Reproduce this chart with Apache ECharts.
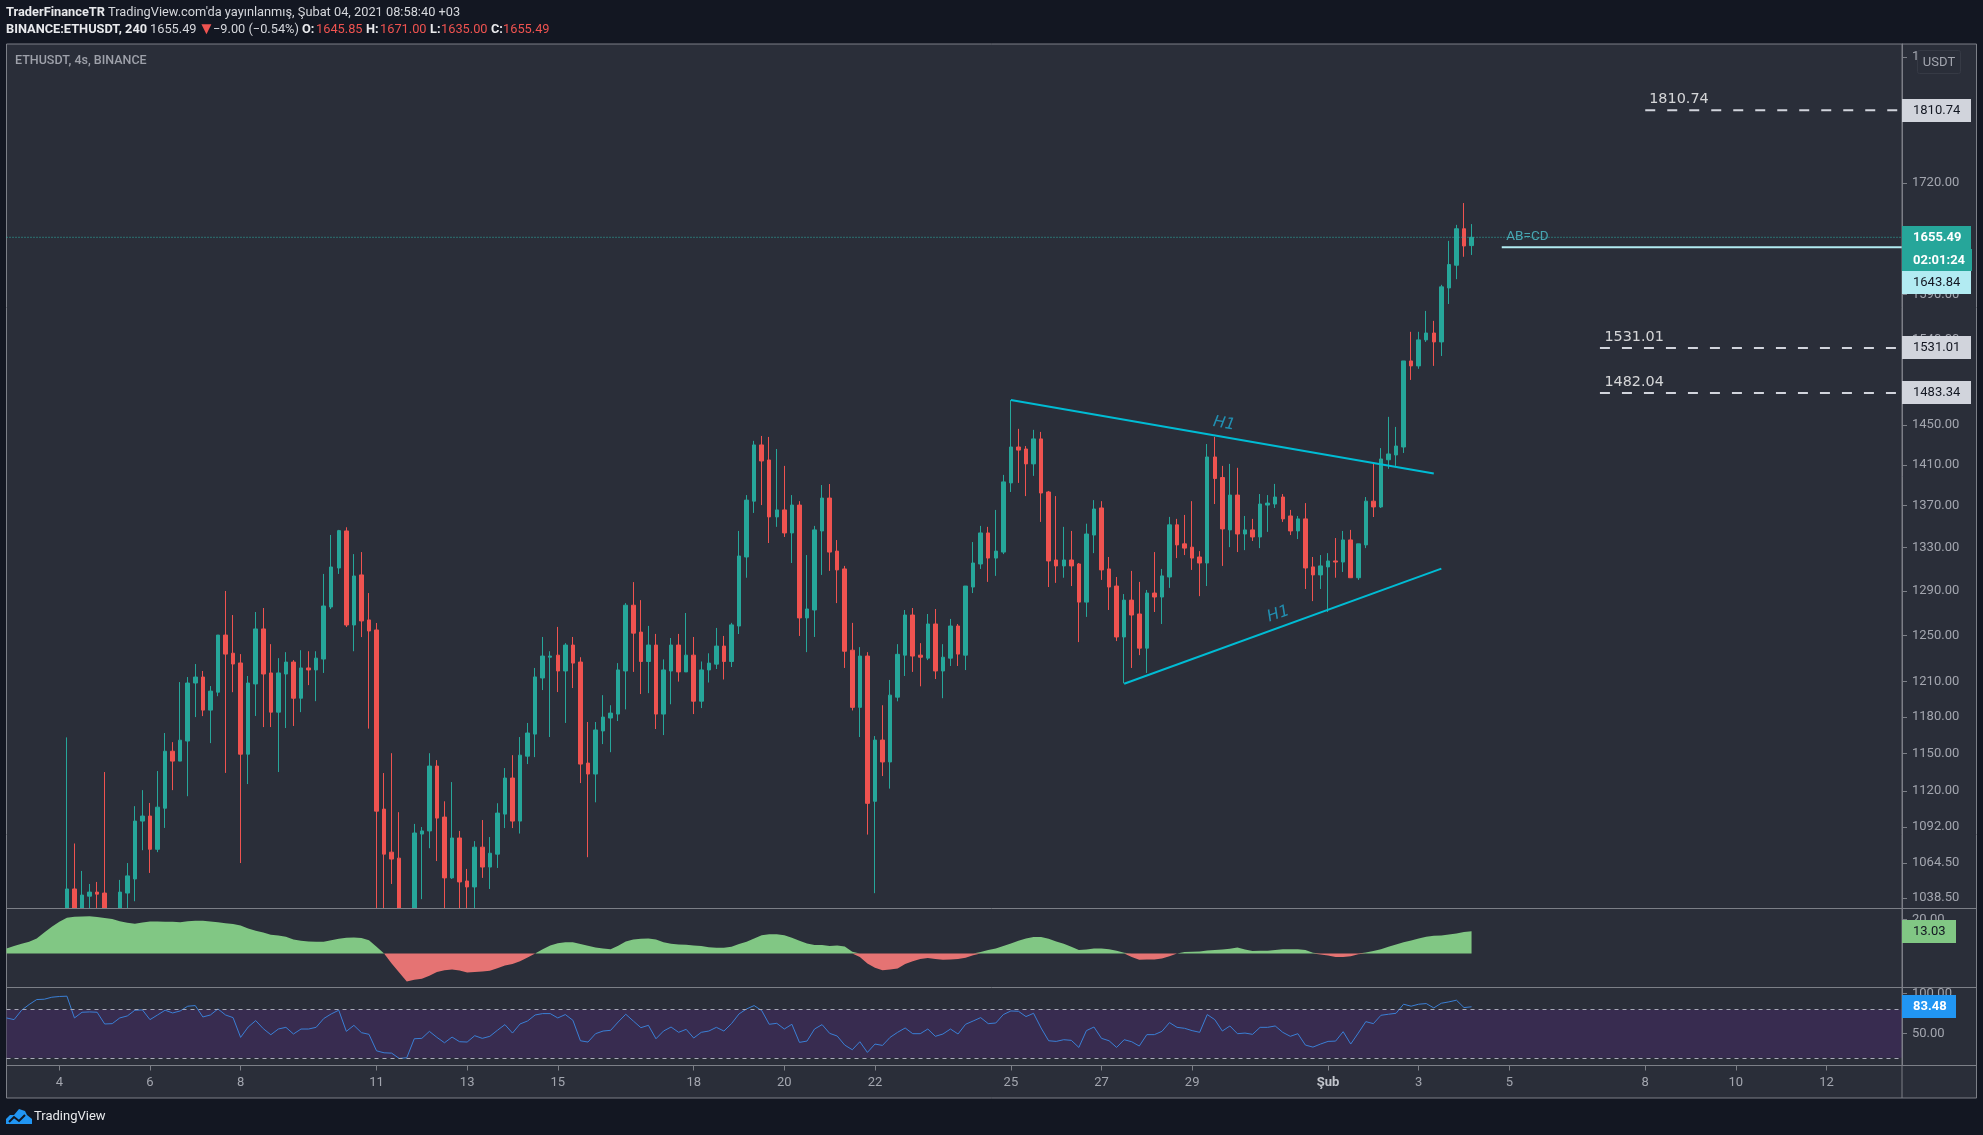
<!DOCTYPE html>
<html><head><meta charset="utf-8">
<style>html,body{margin:0;padding:0;background:#131722}#c{width:1983px;height:1135px}</style>
<script src="https://cdn.jsdelivr.net/npm/echarts@6/dist/echarts.min.js"></script>
</head><body><div id="c"></div>
<script>
// ---------- data ----------
const opens=[990,1000,988,1000,1005,990,1010,1015,1020,1045.3,1022,1040,1043,1042.3,1018,1018,1042.3,1052.7,1096.6,1100.5,1075,1106.6,1152,1144,1160.3,1208.8,1213.9,1185.9,1201,1250.4,1234.5,1226,1149.6,1208,1255.8,1217.4,1184.2,1216.5,1226.8,1195.9,1221.7,1220,1229.4,1275.4,1311,1345.7,1259.3,1304.6,1263.8,1254.9,1105.9,1072.8,1068.3,1020,1012,1086.6,1089,1140,1099.7,1053.5,1083.6,1051.2,1046.8,1076.6,1061.6,
1071.3,1102,1130.4,1096.6,1148,1166,1213.1,1231,1232.8,1219.1,1241.6,1226.8,1142.4,1133.6,1168.6,1179.3,1182.6,1219.1,1277,1253,1227.3,1241.6,1182.6,1219.1,1241.6,1218.3,1232.8,1193.4,1220,1225,1240.7,1227.3,1258.4,1321.2,1374.3,1429.9,1414.8,1359.1,1365.8,1343.8,1370.5,1265.6,1272.7,1345.7,1377.3,1326.7,1310.1,1237.1,1188.2,1232,1112,1161.1,1143.3,1196.8,1232.8,1268.2,1232.8,1230.2,1260.2,1219.1,
1230.2,1258.4,1232.8,1293.5,1314.7,1343.8,1320.2,1325.8,1392.1,1427.8,1425.8,1410.9,1436,1383.2,1318.4,1312.9,1318.4,1314.7,1279.8,1341.8,1367.7,1310.1,1294.4,1248.7,1281.6,1269.1,1238.9,1288,1284.4,1302.7,1351.5,1333.5,1330.4,1321.2,1315.6,1417.8,1397.4,1346.7,1380.2,1342.8,1346.7,1340,1370.5,1371.5,1378.3,1360,1345.7,1357.2,1312,1304.6,1312,1317.5,1316.5,1337.2,1302,1332.5,1374.3,1368.7,1415,1419.8,1427.8,1517.2,1511.9,1539.9,1547.4,1537.7,1597.4,1623.2,1665.5,1645.85];
const closes=[1000,988,1000,1005,990,1010,1015,1020,1045.3,1020,1040.8,1043,1041.5,1020,1012,1043,1055,1096.6,1100.5,1075,1107.4,1152,1144,1161,1208.8,1213.9,1185.9,1201.9,1250.4,1233.7,1225.1,1149.6,1208.8,1255.8,1216.5,1184.2,1217.4,1226.8,1195.9,1221.7,1220,1230.2,1276.3,1311.9,1346,1259.3,1303.6,1262.9,1254,1104.3,1071.3,1067.6,1015,1010,1087.4,1089,1140,1098.9,1053.5,1083.6,1050.5,1046.8,1076.6,1061.6,1072,
1102.8,1130.4,1096.6,1148.8,1166.9,1214,1232,1232,1219.1,1241.6,1225.9,1141.6,1133.6,1169.4,1180.1,1183.4,1220,1277,1252.1,1227.3,1241.6,1182.6,1220,1241.6,1218.3,1232.8,1193.4,1220,1225.9,1240.7,1227.3,1259.4,1322.1,1375.3,1429.9,1413.8,1359.1,1365.8,1343.8,1370.5,1265.6,1273.6,1346.7,1377.3,1325.8,1309.2,1236.2,1188.2,1232,1110.4,1161.1,1143.3,1198.5,1233.5,1268.2,1232,1231,1260.2,1219.1,1231,
1258.4,1233.7,1294.4,1315.6,1343.8,1320.2,1326.7,1393.1,1427.8,1424.7,1410.9,1436,1382.2,1317.5,1312.9,1318.4,1312.9,1279.8,1342.8,1366.7,1309.2,1293.5,1248.7,1281.6,1268.2,1238.9,1288,1284.4,1303.7,1351.5,1332.5,1329.5,1320.2,1315.6,1417.8,1396.4,1347.6,1380.2,1342.8,1346.7,1340,1371.5,1372.4,1378.3,1357.2,1345.7,1357.2,1311,1304.6,1312.9,1317.5,1316.5,1337.2,1302,1333.5,1374.3,1368.7,1415.8,1420.8,1428.8,1517.2,1511.9,1539.9,1547.4,1537.7,1598.6,1624,1665.5,1645.4,1655.49];
const lows=[985,985,985,985,985,985,1000,1005,1000,1005,1012,1025,1022,1010,1000,1010,1028,1036.3,1074.3,1057.2,1072.8,1091.3,1120.8,1144,1116,1180.1,1180.9,1158.6,1197.6,1134.5,1201,1064.6,1125.6,1181,1171.8,1171.8,1135.2,1171,1172.7,1184.2,1207,1193.4,1217.4,1273.6,1305.5,1257.5,1236.2,1248.6,1170.5,1020,1025,1049,1005,1000,1005,1037.8,1075.8,1066.1,1025,1052.7,1025,1028,1026,1053.5,1045.3,
1060.9,1091.2,1091.2,1087,1141.6,1147.2,1202.8,1163.6,1201.1,1175.2,1204.5,1126.4,1069,1111.2,1157.8,1151.2,1176.8,1186.5,1218.3,1199.4,1200.2,1170.2,1165.2,1190.8,1210,1218.3,1182.6,1187.6,1209.2,1220.8,1211.8,1222.5,1251.3,1302,1362.9,1370.5,1334.3,1349.6,1340,1315.6,1249.6,1235.4,1248.7,1304.6,1308.3,1278.9,1221.7,1185.6,1163.6,1086.2,1042.2,1132,1122,1193.3,1214.8,1218.3,1206,1228.5,1212.2,1195.9,
1223.4,1223.4,1219.9,1288,1310.1,1298.2,1303.7,1323.9,1383.2,1392.1,1379.2,1399,1354.3,1293.5,1297.3,1302,1294.4,1244.2,1266.5,1324.8,1300,1272.7,1245.1,1208.5,1221.7,1232.8,1217.4,1270.9,1260.2,1292.7,1320.2,1323,1309.2,1285.2,1294.4,1371.5,1312.9,1330.4,1325.8,1327.6,1336.2,1329.5,1344.8,1367.7,1354.3,1341.8,1338,1291.7,1280.7,1291.7,1270.9,1302,1307.3,1302,1300,1329.5,1359,1367.7,1406,1408.9,1421.8,1497,1508.8,1537.7,1511.9,1522.5,1579.4,1607.3,1632.9,1635];
const highs=[1012,1010,1015,1018,1020,1022,1026,1029,1163.3,1079.4,1058.7,1049,1050.5,1135.2,1029,1052,1064.6,1108.2,1120.8,1110.7,1136,1166.9,1159.4,1209.6,1213.9,1225.1,1219.1,1206.2,1250.4,1289.9,1268.2,1233.7,1214.8,1270.9,1274.5,1242.4,1230.2,1235.4,1228.5,1237.1,1236.2,1236.2,1305.5,1341.9,1346.7,1349.2,1323.9,1325.8,1288,1261.1,1134.4,1150.4,1103.5,1029,1094.4,1092,1150.4,1144.8,1112,1127.2,1089,1060.2,1081.2,1097.4,1084.3,
1110.5,1138.4,1148.8,1163.6,1175.2,1221.7,1248.7,1236.2,1257.6,1243.3,1248.7,1231,1176,1176,1198.5,1190,1225.9,1278.9,1298,1281.6,1258.5,1251.4,1229.1,1247.8,1251.4,1270,1248.7,1227.3,1234.4,1256.7,1249.6,1261.2,1345.7,1380.2,1434,1439,1438,1425.8,1408.9,1380.2,1374.3,1323,1350.5,1390,1391,1337.1,1312.9,1261.2,1239.8,1235.4,1164.4,1190,1211.4,1242.4,1272.7,1274.5,1243.3,1269.1,1273.6,1242.4,
1264.7,1260.2,1294.4,1335.2,1350.5,1349.6,1365.8,1400,1475.9,1446.2,1428.8,1445.2,1443.1,1384.2,1379.2,1349.6,1345.7,1315.6,1352.6,1375.3,1374.3,1321.2,1302.7,1287.1,1308.3,1298.2,1290.8,1325.8,1310.1,1359.1,1357.2,1361,1374.3,1326.7,1430.8,1438,1408.9,1410.9,1407,1360,1357.2,1381.2,1380.2,1391.1,1381.2,1365.8,1360,1372.4,1321.2,1323,1324.8,1339,1345.7,1346.7,1333.5,1378.3,1410.9,1426.7,1458.5,1448.2,1517.2,1548.7,1548.7,1571.7,1560.7,1600.9,1651.3,1670.1,1696,1671];
const macd=[2.9,4.3,5.7,6.8,8.8,12.3,15.6,18.5,20.9,21.5,21.6,21.8,21.3,20.7,20.1,18.9,17.9,17.4,18.1,18.7,18.7,18.5,18.5,18.3,18.9,19.1,19.1,18.7,18.3,17.7,17.2,16.4,14.6,13.3,12.3,10.9,10.5,9.8,8.2,7.4,7,6.8,6.8,7.8,8.6,9.2,9.4,9,7.8,3.9,0,-5.9,-11.1,-16.4,-15.4,-14.8,-13.1,-10.9,-9.8,-9.4,-9.9,-11.1,-10.9,-10.5,-10.1,-8.6,-7,-6.2,-4.5,-2.3,0,2.5,4.7,6,6.6,6.6,5.5,4.5,3.5,2.9,2.5,4.5,7,8.2,8.6,8.8,8.2,6.6,5.7,5.3,5.1,4.7,4.3,3.7,3.3,3.3,3.9,5.5,6.8,8.8,10.7,11.3,11.3,10.7,9.2,7.4,5.9,4.9,4.9,4.3,4.7,4.1,1,-2,-5.9,-8.4,-9.8,-9.4,-8.8,-6.2,-4.5,-3.3,-2.7,-3.3,-3.7,-3.5,-3.3,-2.5,-1,0.8,2,2.9,4.3,5.9,7.4,8.8,9.6,9.6,8.6,7,5.7,3.9,2,2.3,2.9,2.9,2.5,1.6,0.4,-2,-3.7,-3.5,-3.5,-2.9,-1.6,0,0.8,1,1.2,1.8,2.1,2.3,2.7,3.5,2.3,1.4,1.6,1.6,2.1,2.5,2.5,2.5,2,0.4,-0.6,-1.2,-2,-2,-1.6,-0.4,0.6,1.4,2.5,3.9,5.3,6.6,7.6,8.8,9.8,10.3,10.5,11.1,11.7,12.5,13.03];
const rsi=[69.6,67.5,79.2,86.3,92.5,92.9,95.4,96.3,96.7,69.6,76.7,77.1,76.7,62.1,62.5,69.6,72.1,79.2,79.6,67.5,73.3,79.2,75.8,78.3,84.2,85,70.8,73.3,80.8,73.3,70,45.4,58.3,66.3,56.3,48.7,55.8,57.9,49.6,55.8,55.8,57.9,68.8,74.6,79.2,52.9,60.4,51.3,49.2,28.7,26.2,25.8,19.2,20,43.7,44.2,52.9,45.4,38.7,45.8,40,39.6,47.5,44.2,46.7,54.2,61.3,50.8,62.1,65.8,73.3,75,75,69.6,73.8,66.7,41.2,39.6,50,53.3,54.2,64.6,74.2,65.8,57.5,60.4,43.7,53.3,58.3,51.7,55.4,44.6,51.7,53.3,57.9,53.3,62.5,74.6,80.8,85,78.8,61.7,62.9,55.8,61.7,39.2,40.8,55.8,61.3,50.4,47.1,35.8,30,40,26.7,37.1,35.4,45.4,51.7,57.1,50,50,55.8,46.7,49.6,55.8,49.6,61.7,65.8,70,62.5,63.3,73.8,78.3,77.9,71.3,75.4,57.1,41.2,40.4,42.5,41.7,32.9,53.8,58.3,44.2,41.2,32.9,42.5,40,34.6,48.8,48.8,52.9,63.8,57.9,56.7,53.8,51.7,73.8,67.5,53.3,59.6,50,50.8,49.2,57.9,57.9,59.6,51.7,46.7,50,35.8,33.3,37.1,40.4,40.8,52.5,37.1,50.8,65,62.5,72.9,74.2,75.4,86.7,84.2,86.7,87.5,82.1,87.9,89.6,91.7,82.5,83.48];
const priceTicks=[1880,1800,1720,1640,1590,1540,1490,1450,1410,1370,1330,1290,1250,1210,1180,1150,1120,1092,1064.5,1038.5];
const macdTicks=[20];
const rsiTicks=[50,100];
const xTickIndex=[7,19,31,49,61,73,91,103,115,133,145,157,175,187,199,217,229,241];
const xTickLabels=['4','6','8','11','13','15','18','20','22','25','27','29','Şub','3','5','8','10','12'];
const barCount=252;
const categories=Array.from({length:barCount},(_,i)=>new Date(Date.UTC(2021,0,2,21)+i*4*3600*1000).toISOString().slice(0,16));
const lastPrice=1655.49, abcd=1643.84;
const levels=[[217,1810.74],[211,1531.01],[211,1483.34]];
const trendUpper=[[133,1475.9],[189,1401.3]];
const trendLower=[[148,1208.2],[190,1310.4]];
const annoText=['H1','H1','AB=CD','1810.74','1531.01','1482.04'];
const annoBar=[161,168,201,221,215,215];
const annoPrice=[1452.7,1268.9,1656.4,1828,1545.4,1497.1];

// ---------- styles ----------
const BG='#131722',PANE='#2a2e39',LINE='#7c7f87',TXT='#a3a6af',UP='#26a69a',DN='#ef5350';
const FONT='Roboto';
const tickLabelByCat={};xTickIndex.forEach((k,i)=>{tickLabelByCat[categories[k]]=xTickLabels[i];});
const L=6.5,AX=1902,R=1976.5;
const tickFn=i=>xTickIndex.includes(i);

function xAxis(g,show){return {type:'category',gridIndex:g,data:categories,boundaryGap:false,show:show,
  axisLine:{lineStyle:{color:LINE}},
  axisTick:{show:true,length:5,interval:tickFn,lineStyle:{color:LINE}},
  axisLabel:{interval:tickFn,margin:11,color:TXT,fontFamily:FONT,fontSize:13,hideOverlap:false,
    formatter:v=>{const t=tickLabelByCat[v]||'';return t==='Şub'?'{b|Şub}':t;},
    rich:{b:{fontWeight:'bold',fontFamily:FONT,fontSize:13,color:'#c2c5cc'}}}};}
function yAxis(g,extra,ticks,fmt){return Object.assign({gridIndex:g,position:'right',scale:true,splitLine:{show:false},
  axisLine:{show:true,lineStyle:{color:LINE}},
  axisTick:{show:true,length:5,lineStyle:{color:LINE},customValues:ticks},
  axisLabel:{margin:10,padding:[3,0,0,0],color:TXT,fontFamily:FONT,fontSize:13,customValues:ticks,formatter:v=>Number(v).toFixed(2)}},extra);}
function seg(name,pts,color,width,type){return {name,type:'line',xAxisIndex:0,yAxisIndex:0,data:pts,symbol:'none',silent:true,z:5,
  lineStyle:{color,width,type},clip:true,animation:false};}

const annoStyle=[{color:'#1fa8cf',fontSize:16,fontStyle:'italic',rotate:-10,fontFamily:'DejaVu Sans',offset:[2,1]},
  {color:'#1fa8cf',fontSize:16,fontStyle:'italic',rotate:20,fontFamily:'DejaVu Sans',offset:[3,1]},
  {color:'#4fc3d0',fontSize:13.5,fontFamily:FONT,offset:[3,0]},
  {color:'#ffffff',fontSize:14.4,fontFamily:'DejaVu Sans',offset:[3.5,2]},
  {color:'#ffffff',fontSize:14.4,fontFamily:'DejaVu Sans',offset:[4,2]},
  {color:'#ffffff',fontSize:14.4,fontFamily:'DejaVu Sans',offset:[4,2]}];

// header text pieces: [text, x, y, bold, colour, size]
const head=[["TraderFinanceTR",6,13,true,'#e8e9ec',12.8],["TradingView.com'da yayınlanmış, Şubat 04, 2021 08:58:40 +03",108,13,false,'#d5d7dc',12.8],
 ["BINANCE:ETHUSDT, 240",6,30,true,'#e8e9ec',12.8],["1655.49",150,30,false,'#d5d7dc',12.8],["▼",198,30,false,'#ef5350',17],["−9.00 (−0.54%)",213,30,false,'#d5d7dc',12.8],
 ["O:",302,30,true,'#e8e9ec',12.8],["1645.85",316,30,false,'#ef5350',12.8],["H:",366,30,true,'#e8e9ec',12.8],["1671.00",380,30,false,'#ef5350',12.8],
 ["L:",430,30,true,'#e8e9ec',12.8],["1635.00",441,30,false,'#ef5350',12.8],["C:",491,30,true,'#e8e9ec',12.8],["1655.49",503,30,false,'#ef5350',12.8]];
// right-hand badges: [text, top, height, right, bg, fg, bold]
const badges=[["1810.74",99,23,1971,'#d1d4dc','#131722',false],["1655.49",226,23,1971,UP,'#ffffff',true],["02:01:24",249,22,1972,UP,'#ffffff',true],
 ["1643.84",271,23,1971,'#b2ebf2','#131722',false],["1531.01",336,23,1971,'#d1d4dc','#131722',false],["1483.34",381,23,1971,'#d1d4dc','#131722',false],
 ["13.03",920,23,1956,'#81c784','#131722',false],["83.48",995,23,1956,'#2196f3','#ffffff',true]];

const graphic=[
 {type:'rect',z:-5,shape:{x:L,y:44,width:R-L,height:1098-44},style:{fill:PANE,stroke:LINE,lineWidth:1}},
 {type:'rect',z:1.5,shape:{x:L+0.5,y:909,width:AX-L-1,height:78},style:{fill:PANE}}
];
[908.5,987.5,1065.5].forEach(y=>graphic.push({type:'line',z:50,shape:{x1:L,y1:y,x2:R,y2:y},style:{stroke:LINE,lineWidth:1}}));
graphic.push({type:'line',z:50,shape:{x1:AX,y1:44,x2:AX,y2:1098},style:{stroke:LINE,lineWidth:1}});
head.forEach(h=>graphic.push({type:'text',z:100,x:h[1],y:h[2],style:{text:h[0],fill:h[4],font:(h[3]?'bold ':'')+h[5]+'px '+FONT,verticalAlign:'middle'}}));
graphic.push({type:'text',z:100,x:15,y:60.5,style:{text:'ETHUSDT, 4s, BINANCE',fill:'#9ea1aa',font:'500 12.5px '+FONT,verticalAlign:'middle'}});
badges.forEach(b=>{
 graphic.push({type:'rect',z:100,shape:{x:AX,y:b[1],width:b[3]-AX,height:b[2]},style:{fill:b[4]}});
 graphic.push({type:'text',z:101,x:1913,y:b[1]+b[2]/2+0.5,style:{text:b[0],fill:b[5],font:(b[6]?'bold ':'')+'13px '+FONT,verticalAlign:'middle'}});
});
graphic.push({type:'rect',z:100,shape:{x:1917.5,y:50.5,width:43,height:23,r:2},style:{fill:PANE,stroke:'#363a45',lineWidth:1}});
graphic.push({type:'text',z:101,x:1939,y:62.5,style:{text:'USDT',fill:TXT,font:'13px '+FONT,align:'center',verticalAlign:'middle'}});
graphic.push({type:'polygon',z:100,shape:{points:[[6,1124],[6,1119],[10,1115],[14,1115],[19,1109],[25,1111],[27,1115],[32,1119],[32,1124]]},style:{fill:'#2196f3'}});
graphic.push({type:'polyline',z:101,shape:{points:[[9,1122],[14,1117],[19,1121],[25,1115]]},style:{stroke:'#131722',lineWidth:2,fill:'none'}});
graphic.push({type:'text',z:100,x:34,y:1117,style:{text:'TradingView',fill:'#e8e9ec',font:'13px '+FONT,verticalAlign:'middle'}});

const option={animation:false,backgroundColor:BG,
 grid:[{left:L,top:44,width:AX-L,height:864.5,containLabel:false},{left:L,top:908.5,width:AX-L,height:79},{left:L,top:987.5,width:AX-L,height:78}],
 xAxis:[xAxis(0,false),xAxis(1,false),xAxis(2,true)],
 yAxis:[yAxis(0,{type:'log',min:1031,max:1897.4},priceTicks),
        yAxis(1,{type:'value',min:-19.9,max:26.3},macdTicks),
        yAxis(2,{type:'value',min:10.4,max:107.5},rsiTicks)],
 graphic:graphic,
 series:[
  {name:'ETHUSDT',type:'candlestick',xAxisIndex:0,yAxisIndex:0,barWidth:4,clip:true,z:1,
   data:opens.map((o,i)=>[o,closes[i],lows[i],highs[i]]),
   itemStyle:{color:UP,color0:DN,borderColor:UP,borderColor0:DN,borderWidth:1}},
  seg('last',[[0,lastPrice],[barCount-1,lastPrice]],'#2fb5a8',1,[1,2]),
  seg('AB=CD',[[198,abcd],[barCount-1,abcd]],'#b2ebf2',2,'solid'),
  ...levels.map(l=>seg('level '+l[1],[[l[0],l[1]],[barCount-1,l[1]]],'#d1d4dc',2,[10,12])),
  seg('H1 upper',trendUpper,'#00bcd4',2,'solid'),
  seg('H1 lower',trendLower,'#00bcd4',2,'solid'),
  {name:'notes',type:'scatter',xAxisIndex:0,yAxisIndex:0,symbolSize:1,itemStyle:{color:'transparent'},z:6,silent:true,
   data:annoText.map((t,i)=>({name:t,value:[annoBar[i],annoPrice[i]],label:Object.assign({show:true,position:'inside',formatter:t},annoStyle[i])}))},
  {name:'MACD+',type:'line',xAxisIndex:1,yAxisIndex:1,symbol:'none',silent:true,z:3,
   data:macd.map(v=>Math.max(v,0)),lineStyle:{width:0},areaStyle:{color:'#81c784',opacity:1,origin:0}},
  {name:'MACD-',type:'line',xAxisIndex:1,yAxisIndex:1,symbol:'none',silent:true,z:3,
   data:macd.map(v=>Math.min(v,0)),lineStyle:{width:0},areaStyle:{color:'#e57373',opacity:1,origin:0}},
  {name:'RSI',type:'line',xAxisIndex:2,yAxisIndex:2,symbol:'none',silent:true,data:rsi,lineStyle:{color:'#3a7fd5',width:1},z:4,
   markArea:{silent:true,itemStyle:{color:'#382c50',opacity:1},data:[[{yAxis:20},{yAxis:80}]]},
   markLine:{silent:true,symbol:'none',label:{show:false},lineStyle:{color:'#a9aab8',type:[4,4],width:1},data:[{yAxis:80},{yAxis:20}]}}
 ]};
const chart=echarts.init(document.getElementById('c'),null,{renderer:'canvas',width:1983,height:1135});
chart.setOption(option);
</script></body></html>
